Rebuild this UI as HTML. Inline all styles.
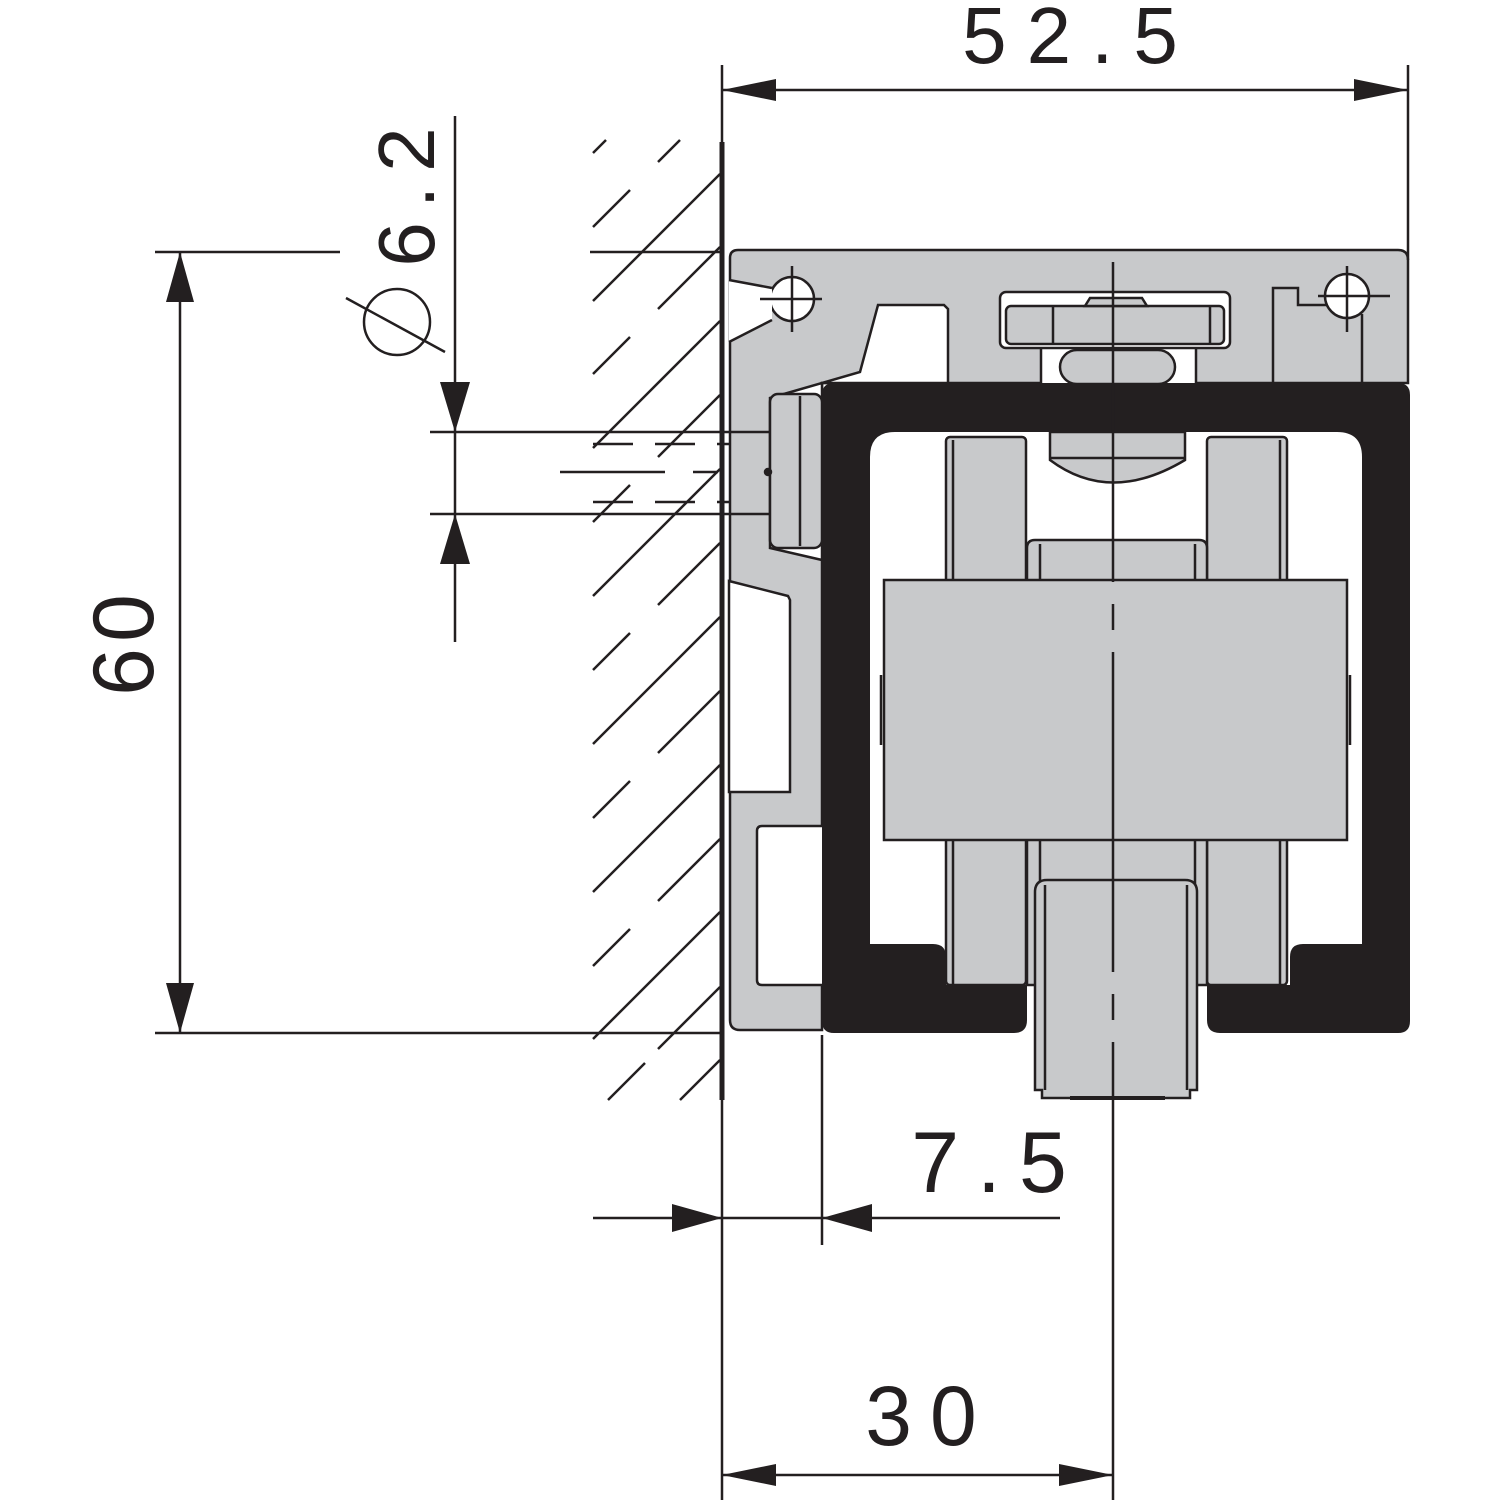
<!DOCTYPE html>
<html><head><meta charset="utf-8"><style>
html,body{margin:0;padding:0;background:#fff;}
svg{display:block;}
text{font-family:"Liberation Sans",sans-serif;fill:#231f20;}
</style></head><body>
<svg width="1500" height="1500" viewBox="0 0 1500 1500" xmlns="http://www.w3.org/2000/svg">
<defs>
<clipPath id="hc"><rect x="590" y="138" width="130" height="965"/></clipPath>
</defs>
<g stroke="#231f20" stroke-width="2.5" fill="none" stroke-linecap="butt">
<g clip-path="url(#hc)">
  <line x1="593" y1="301" x2="720" y2="174"/>
  <line x1="593" y1="448" x2="720" y2="321"/>
  <line x1="593" y1="596" x2="720" y2="469"/>
  <line x1="593" y1="744" x2="720" y2="617"/>
  <line x1="593" y1="892" x2="720" y2="765"/>
  <line x1="593" y1="1039" x2="720" y2="912"/>
  <line x1="593" y1="153" x2="606" y2="140"/>
  <line x1="593" y1="227" x2="630" y2="190"/><line x1="658" y1="162" x2="680" y2="140"/>
  <line x1="593" y1="374" x2="630" y2="337"/><line x1="658" y1="309" x2="720" y2="247"/>
  <line x1="593" y1="522" x2="630" y2="485"/><line x1="658" y1="457" x2="720" y2="395"/>
  <line x1="593" y1="670" x2="630" y2="633"/><line x1="658" y1="605" x2="720" y2="543"/>
  <line x1="593" y1="818" x2="630" y2="781"/><line x1="658" y1="753" x2="720" y2="691"/>
  <line x1="593" y1="966" x2="630" y2="929"/><line x1="658" y1="901" x2="720" y2="839"/>
  <line x1="608" y1="1100" x2="645" y2="1063"/><line x1="680" y1="1100" x2="720" y2="1060"/>
  <line x1="658" y1="1049" x2="720" y2="987"/>
</g>
<line x1="593" y1="444" x2="770" y2="444" stroke-dasharray="40 22"/>
<line x1="593" y1="502" x2="770" y2="502" stroke-dasharray="40 22"/>
<line x1="560" y1="472" x2="770" y2="472" stroke-dasharray="105 28 25 28"/>

<path d="M738 250 H1398 Q1408 250 1408 260 V383 H822 V1030 H740 Q730 1030 730 1020 V258 Q730 250 738 250Z" fill="#c8c9cb"/>
<circle cx="792" cy="299" r="22" fill="#fff"/>
<polygon points="729,280 772,288 772,320 729,342" fill="#fff" stroke="none"/>
<polyline points="729,280 772,288"/><polyline points="729,342 772,320"/>
<line x1="760" y1="299" x2="822" y2="299"/><line x1="792" y1="266" x2="792" y2="332"/>
<circle cx="1347" cy="296" r="22" fill="#fff"/>
<line x1="1318" y1="296" x2="1390" y2="296"/><line x1="1347" y1="266" x2="1347" y2="332"/>
<polyline points="1273,382 1273,288 1298,288 1298,305 1328,305"/>
<polyline points="1362,314 1362,382"/>
<polygon points="878,305 944,305 948,309 948,383 822,383 822,560 770,548 770,398 860,372" fill="#fff"/>
<rect x="770" y="394" width="52" height="154" rx="8" fill="#c8c9cb"/>
<line x1="800" y1="396" x2="800" y2="546"/>
<circle cx="768" cy="472" r="3" fill="#231f20"/>
<polygon points="729,581 788,596 790,600 790,792 729,792" fill="#fff"/>
<path d="M822 826 H762 Q757 826 757 831 V980 Q757 985 762 985 H822" fill="#fff"/>
<rect x="1041" y="345" width="155" height="40" fill="#fff"/>
<rect x="1000" y="292" width="230" height="56" rx="6" fill="#fff"/>
<rect x="1006" y="306" width="218" height="38" rx="5" fill="#c8c9cb"/>
<line x1="1053" y1="306" x2="1053" y2="344"/><line x1="1210" y1="306" x2="1210" y2="344"/>
<polygon points="1085,306 1090,298 1142,298 1147,306" fill="#c8c9cb"/>
<rect x="1060" y="350" width="115" height="34" rx="17" fill="#c8c9cb"/>

<rect x="946" y="437" width="80" height="548" rx="4" fill="#c8c9cb"/>
<line x1="953" y1="440" x2="953" y2="985"/>
<rect x="1207" y="437" width="80" height="548" rx="4" fill="#c8c9cb"/>
<line x1="1280" y1="440" x2="1280" y2="985"/>
<path d="M1027 985 V548 Q1027 540 1035 540 H1199 Q1207 540 1207 548 V985Z" fill="#c8c9cb"/>
<line x1="1040" y1="544" x2="1040" y2="985"/><line x1="1195" y1="544" x2="1195" y2="985"/>
<path d="M1050 432 V460 Q1110 505 1185 460 V432Z" fill="#c8c9cb"/>
<line x1="1050" y1="458" x2="1185" y2="458"/>
<rect x="884" y="580" width="463" height="260" fill="#c8c9cb"/>
<line x1="881" y1="675" x2="881" y2="745"/><line x1="1350" y1="675" x2="1350" y2="745"/>
<path d="M1035 1090 V892 Q1035 880 1047 880 H1185 Q1197 880 1197 892 V1090 H1190 V1098 H1042 V1090Z" fill="#c8c9cb"/>
<line x1="1045" y1="885" x2="1045" y2="1090"/><line x1="1187" y1="885" x2="1187" y2="1090"/>
<line x1="1070" y1="1098" x2="1165" y2="1098" stroke-width="4"/>

<path d="M834 383 H1398 Q1410 383 1410 395 V1021 Q1410 1033 1398 1033 H1220 Q1207 1033 1207 1020 V985 H1290 V957 Q1290 944 1303 944 H1362 V457 Q1362 432 1337 432 H895 Q870 432 870 457 V944 H933 Q946 944 946 957 V985 H1027 V1020 Q1027 1033 1014 1033 H834 Q822 1033 822 1021 V395 Q822 383 834 383Z" fill="#231f20" stroke="none"/>

<line x1="1113" y1="262" x2="1113" y2="1100" stroke-dasharray="320 22 26 22"/>
<line x1="722" y1="142" x2="722" y2="1100" stroke-width="5"/>

<line x1="722" y1="65" x2="722" y2="142"/>
<line x1="1408" y1="65" x2="1408" y2="260"/>
<line x1="722" y1="90" x2="1408" y2="90"/>
<line x1="155" y1="252" x2="340" y2="252"/>
<line x1="590" y1="252" x2="722" y2="252"/>
<line x1="155" y1="1033" x2="722" y2="1033"/>
<line x1="180" y1="252" x2="180" y2="1033"/>
<line x1="455" y1="116" x2="455" y2="642"/>
<line x1="430" y1="432" x2="770" y2="432"/>
<line x1="430" y1="514" x2="770" y2="514"/>
<line x1="593" y1="1218" x2="1060" y2="1218"/>
<line x1="822" y1="1035" x2="822" y2="1245"/>
<line x1="722" y1="1100" x2="722" y2="1500"/>
<line x1="1113" y1="1100" x2="1113" y2="1500"/>
<line x1="722" y1="1475" x2="1113" y2="1475"/>
<circle cx="397" cy="322" r="33"/>
<line x1="346" y1="298" x2="445" y2="352"/>
</g>
<g fill="#231f20">
<polygon points="722,90 776,79 776,101"/>
<polygon points="1408,90 1354,79 1354,101"/>
<polygon points="180,252 166,302 194,302"/>
<polygon points="180,1033 166,983 194,983"/>
<polygon points="455,432 440,382 470,382"/>
<polygon points="455,514 440,564 470,564"/>
<polygon points="722,1218 672,1204 672,1232"/>
<polygon points="822,1218 872,1204 872,1232"/>
<polygon points="722,1475 776,1464 776,1486"/>
<polygon points="1113,1475 1059,1464 1059,1486"/>
</g>
<text x="1080" y="63" font-size="80" text-anchor="middle" letter-spacing="20">52.5</text>
<text x="998" y="1192" font-size="86" text-anchor="middle" letter-spacing="18">7.5</text>
<text x="930" y="1445" font-size="84" text-anchor="middle" letter-spacing="18">30</text>
<text transform="translate(153,642) rotate(-90)" font-size="86" text-anchor="middle" letter-spacing="6">60</text>
<text transform="translate(434,190) rotate(-90)" font-size="80" text-anchor="middle" letter-spacing="14">6.2</text>
</svg>
</body></html>
